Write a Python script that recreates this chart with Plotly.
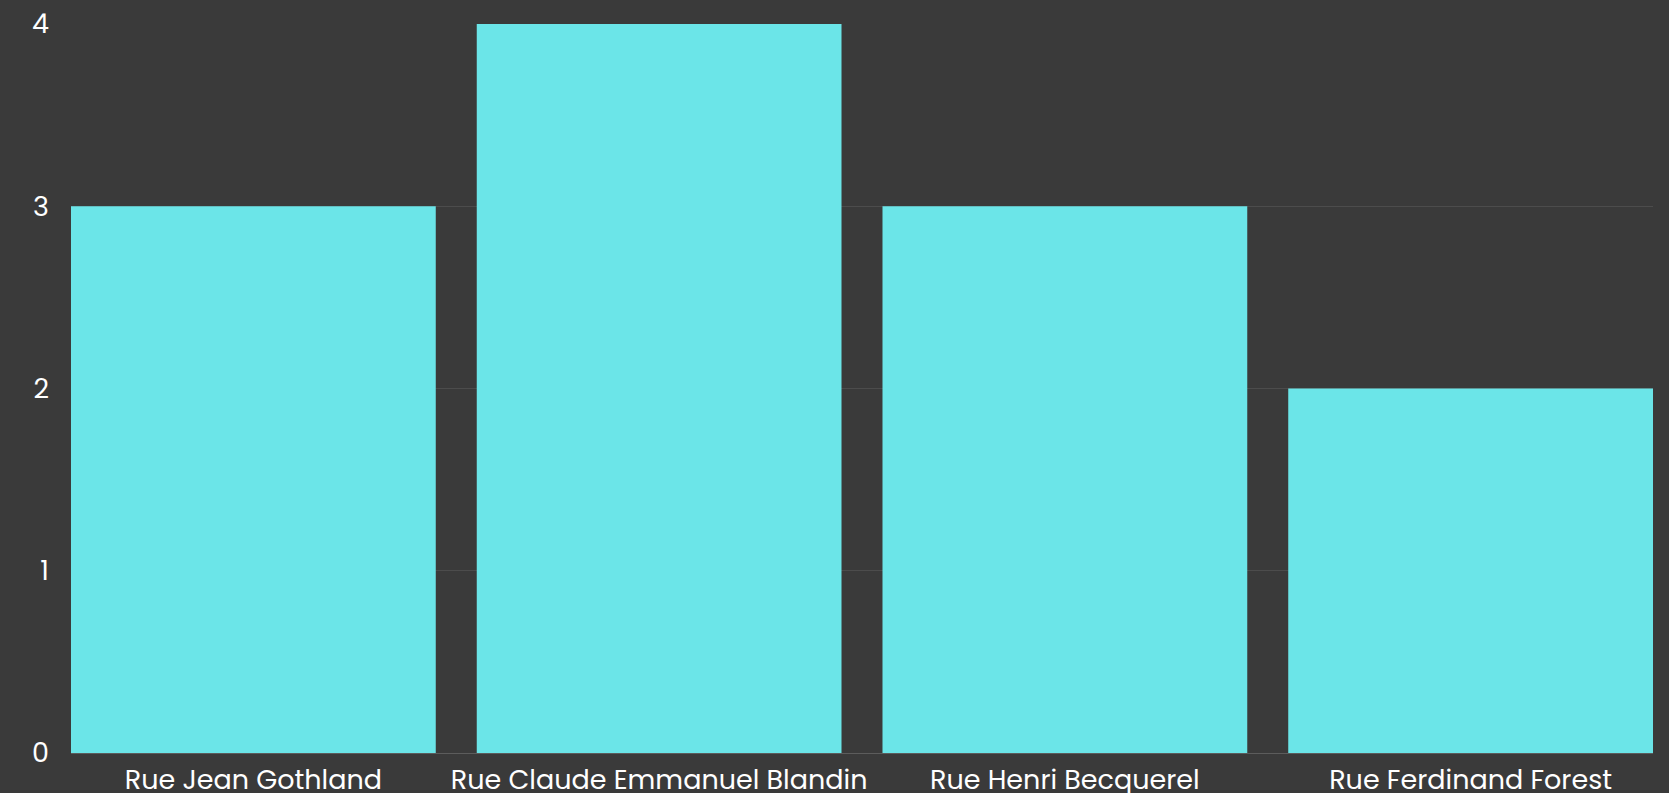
import plotly.graph_objects as go

categories = ["Rue Jean Gothland", "Rue Claude Emmanuel Blandin", "Rue Henri Becquerel", "Rue Ferdinand Forest"]
values = [3, 4, 3, 2]
y_ticks = [0, 1, 2, 3, 4]

BG = "#3a3a3a"
BAR = "#6be5e8"
FONT = "Poppins, 'Open Sans', 'Noto Sans', sans-serif"
GAP = 0.101

fig = go.Figure(go.Bar(x=categories, y=values, marker=dict(color=BAR, line=dict(width=0)), hoverinfo="x+y"))

fig.update_layout(
    width=1669, height=793,
    paper_bgcolor=BG, plot_bgcolor=BG,
    margin=dict(l=71, r=16, t=24, b=40, autoexpand=False),
    bargap=GAP,
    showlegend=False,
    font=dict(family=FONT, color="#ffffff", size=27),
)
fig.update_xaxes(range=[-0.5 + GAP / 2, len(categories) - 0.5 - GAP / 2],
                 showgrid=False, showline=True, linecolor="#5c5c5c", linewidth=1,
                 tickfont=dict(size=27, color="#ffffff"), ticks="", ticklabelstandoff=3)
fig.update_yaxes(range=[0, 4], tickvals=y_ticks, showgrid=True, gridcolor="#4c4c4c", gridwidth=1,
                 zeroline=False, showline=False, tickfont=dict(size=27, color="#ffffff"),
                 ticklabelstandoff=21)

fig.write_html(
    "out.html",
    config={"displayModeBar": False},
    post_script="document.body.style.margin='0';document.body.style.background='#3a3a3a';",
)
